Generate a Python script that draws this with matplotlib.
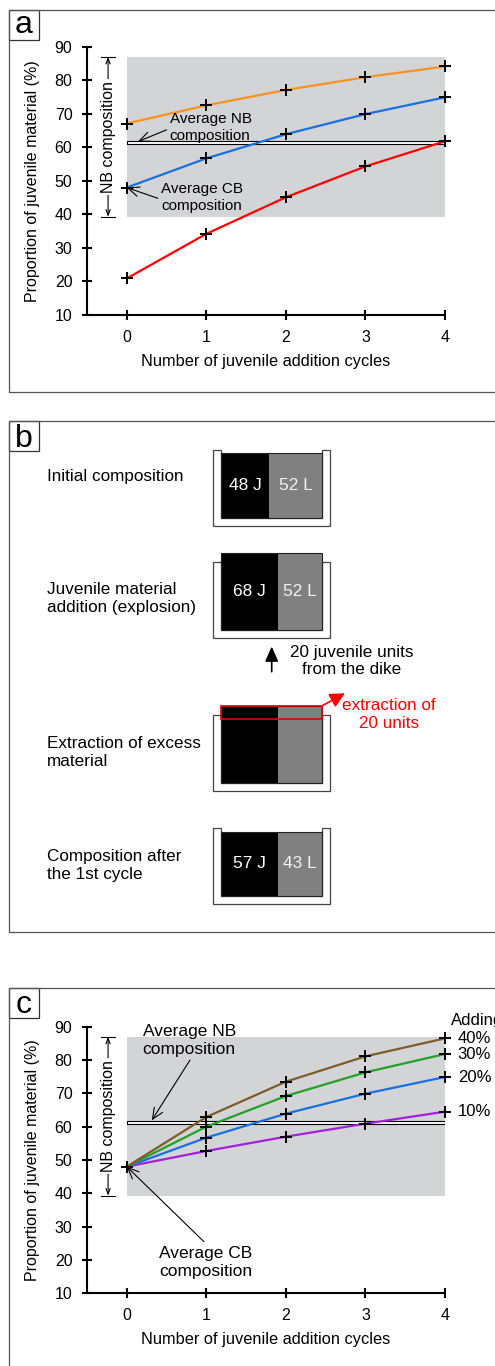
import numpy as np
import matplotlib.pyplot as plt
from matplotlib.patches import Rectangle, Polygon

plt.rcParams['font.family'] = ['Liberation Sans', 'DejaVu Sans']

# juvenile proportion (%) after each addition cycle
cycles = [0, 1, 2, 3, 4]

# a: 20 % juvenile added per cycle, three starting compositions
start_67 = [67.1, 72.5, 77.1, 80.9, 84.1]
start_48 = [48.0, 56.7, 63.9, 69.9, 74.9]
start_21 = [20.9, 34.2, 45.1, 54.3, 61.8]

# c: CB start, different amounts added per cycle
add_10 = [48.0, 52.7, 57.0, 60.9, 64.5]
add_20 = [48.0, 56.7, 63.9, 69.9, 74.9]
add_30 = [48.0, 60.0, 69.2, 76.3, 81.8]
add_40 = [48.0, 62.9, 73.5, 81.1, 86.5]
add_names = ['10%', '20%', '30%', '40%']

nb_range = (39.3, 87.0)
nb_avg = 61.4
cb_avg = 48.0

# b: one mixing cycle (units of juvenile J and lithic L material)
stage_names = ['Initial composition',
               'Juvenile material\naddition (explosion)',
               'Extraction of excess\nmaterial',
               'Composition after\nthe 1st cycle']
juv_units = [48, 68, 68, 57]
lith_units = [52, 52, 52, 43]
show_numbers = [True, True, False, True]
added_units = 20
removed_units = 20

gray_bg = '#d3d4d6'
W, H = 495, 1366

fig = plt.figure(figsize=(W / 100, H / 100), dpi=100)

# full-figure overlay in pixel units for frames and the sketch in b
ov = fig.add_axes([0, 0, 1, 1])
ov.set_xlim(0, W)
ov.set_ylim(H, 0)
ov.axis('off')

frame_kw = dict(color='#555555', lw=0.9, clip_on=False)
ov.plot([W + 2, 8.5, 8.5, W + 2], [9.5, 9.5, 391.7, 391.7], **frame_kw)
ov.plot([W + 2, 8.5, 8.5, W + 2], [421, 421, 931.7, 931.7], **frame_kw)
ov.plot([W + 2, 8.5, 8.5], [988.3, 988.3, H + 2], **frame_kw)

for top, base, letter in [(9.5, 33.3, 'a'), (421, 447.3, 'b'), (988.3, 1013.3, 'c')]:
    ov.add_patch(Rectangle((8.5, top), 30, 30, fc='white', ec='#333333', lw=0.9))
    ov.text(23.5, base, letter, fontsize=23, ha='center', va='baseline')


def make_chart(left, top, right, bottom):
    ax = fig.add_axes([left / W, 1 - bottom / H, (right - left) / W, (bottom - top) / H])
    ax.set_xlim(-0.5, 4)
    ax.set_ylim(10, 90)
    ax.patch.set_alpha(0)
    ax.spines['top'].set_visible(False)
    ax.spines['right'].set_visible(False)
    ax.spines['left'].set_linewidth(1.5)
    ax.spines['bottom'].set_linewidth(1.5)
    ax.set_xticks(cycles)
    ax.set_yticks(range(10, 91, 10))
    ax.tick_params(direction='inout', length=7, width=1.5, labelsize=11.5, pad=7)

    ax.add_patch(Rectangle((0, nb_range[0]), 4, nb_range[1] - nb_range[0],
                           fc=gray_bg, ec='none', zorder=0))
    ax.add_patch(Rectangle((0, nb_avg - 0.45), 4, 0.9, fc='white', ec='black',
                           lw=0.8, zorder=2))

    # NB range bracket
    bx = -0.235
    ax.annotate('', xy=(bx, nb_range[1]), xytext=(bx, nb_range[0]),
                arrowprops=dict(arrowstyle='<->,head_length=0.4,head_width=0.15',
                                lw=0.8, shrinkA=0, shrinkB=0),
                annotation_clip=False)
    for yb in nb_range:
        ax.plot([-0.32, -0.15], [yb, yb], color='k', lw=0.8, clip_on=False)
    ax.text(bx, sum(nb_range) / 2, 'NB composition', rotation=90, ha='center',
            va='center', fontsize=11.5, zorder=3,
            bbox=dict(fc='white', ec='none', pad=1.5))

    ax.set_ylabel('Proportion of juvenile material (%)', fontsize=11.5, va='center')
    ax.yaxis.set_label_coords(-0.152, 0.5)
    ax.set_xlabel('Number of juvenile addition cycles', fontsize=11.8, va='center')
    ax.xaxis.set_label_coords(0.5, -0.174)
    return ax


def draw_series(ax, values, color):
    ax.plot(cycles, values, color=color, lw=1.6, zorder=3, clip_on=False)
    ax.plot(cycles, values, ls='none', marker='+', ms=9, mew=1.4, color='k',
            zorder=4, clip_on=False)


arrow_kw = dict(arrowstyle='->,head_length=0.8,head_width=0.35', lw=0.8,
                color='k', shrinkA=0, shrinkB=0)

# ---- a ----
ax_a = make_chart(87, 46.7, 445, 315)
draw_series(ax_a, start_67, '#f7931e')
draw_series(ax_a, start_48, '#1a6fdf')
draw_series(ax_a, start_21, '#ff0000')

ax_a.text(0.54, 66.0, 'Average NB\ncomposition', fontsize=11, ha='left', va='center',
          linespacing=1.25, zorder=5)
ax_a.annotate('', xy=(0.14, nb_avg + 0.3), xytext=(0.5, 65.2), arrowprops=arrow_kw, zorder=5)
ax_a.text(0.43, 45.0, 'Average CB\ncomposition', fontsize=11, ha='left', va='center',
          linespacing=1.25, zorder=5)
ax_a.annotate('', xy=(0, cb_avg), xytext=(0.39, 44.8), arrowprops=arrow_kw, zorder=5)

# ---- b ----
unit = 0.644            # px per unit of material
box_w = 101.0
box_x0 = 220.7
wall = 8.0
inner_h = 68.0
floor_y = [517.7, 630.0, 783.3, 896.0]
label_y = [476.7, 598.8, 752.2, 865.0]

for i in range(len(stage_names)):
    j, l = juv_units[i], lith_units[i]
    total = j + l
    h = total * unit
    jw = box_w * j / total
    fy = floor_y[i]
    x0, x1 = box_x0, box_x0 + box_w
    cup = [(x0 - wall, fy - inner_h), (x0 - wall, fy + wall), (x1 + wall, fy + wall),
           (x1 + wall, fy - inner_h), (x1, fy - inner_h), (x1, fy), (x0, fy),
           (x0, fy - inner_h)]
    ov.add_patch(Polygon(cup, closed=True, fc='white', ec='#444444', lw=0.9, zorder=2))
    ov.add_patch(Rectangle((x0, fy - h), jw, h, fc='black', ec='none', zorder=3))
    ov.add_patch(Rectangle((x0 + jw, fy - h), box_w - jw, h, fc='#808080', ec='none', zorder=3))
    ov.add_patch(Rectangle((x0, fy - h), box_w, h, fc='none', ec='#222222', lw=0.8, zorder=4))
    if show_numbers[i]:
        ov.text(x0 + jw / 2, fy - h / 2, f'{j} J', color='white', fontsize=12.5,
                ha='center', va='center', zorder=5)
        ov.text(x0 + jw + (box_w - jw) / 2, fy - h / 2, f'{l} L', color='#f2f2f2',
                fontsize=12.5, ha='center', va='center', zorder=5)
    ov.text(47, label_y[i], stage_names[i], fontsize=12.3, ha='left', va='center',
            linespacing=1.25)

    if i == 2:
        top_y = fy - h
        ov.add_patch(Rectangle((x0, top_y), box_w, removed_units * unit, fc='none',
                               ec='#e00000', lw=1.2, zorder=6))
        ov.annotate('', xy=(345, 693.3), xytext=(x1, top_y),
                    arrowprops=dict(arrowstyle='-|>,head_length=0.9,head_width=0.45',
                                    color='#ff0000', lw=1.2, shrinkA=0, shrinkB=0),
                    zorder=6)
        ov.text(389, 714.5, f'extraction of\n{removed_units} units', color='#ff0000',
                fontsize=12.3, ha='center', va='center', linespacing=1.25)

ov.annotate('', xy=(271.7, 646.5), xytext=(271.7, 671.7),
            arrowprops=dict(arrowstyle='-|>,head_length=0.9,head_width=0.4',
                            color='k', lw=1.2, shrinkA=0, shrinkB=0))
ov.text(351.7, 661, f'{added_units} juvenile units\nfrom the dike', fontsize=12.3,
        ha='center', va='center', linespacing=1.25)

# ---- c ----
ax_c = make_chart(87, 1026.7, 445, 1293.3)
c_series = [add_10, add_20, add_30, add_40]
c_colors = ['#a020e0', '#1a6fdf', '#22a02a', '#7f5a2a']
for vals, col, name in zip(c_series, c_colors, add_names):
    draw_series(ax_c, vals, col)
    ax_c.text(4.16, vals[-1], name, fontsize=12, ha='left', va='center', clip_on=False)
ax_c.text(4.07, 91.8, 'Adding', fontsize=12, ha='left', va='center', clip_on=False)

ax_c.text(0.2, 86.0, 'Average NB\ncomposition', fontsize=12.5, ha='left', va='center',
          linespacing=1.25, zorder=5)
ax_c.annotate('', xy=(0.314, nb_avg + 0.5), xytext=(0.795, 80.0), arrowprops=arrow_kw, zorder=5)
ax_c.text(0.406, 19.3, 'Average CB\ncomposition', fontsize=12.5, ha='left', va='center',
          linespacing=1.25, zorder=5)
ax_c.annotate('', xy=(0, cb_avg), xytext=(0.97, 25.5), arrowprops=arrow_kw, zorder=5)

fig.savefig('out.png', dpi=100)
